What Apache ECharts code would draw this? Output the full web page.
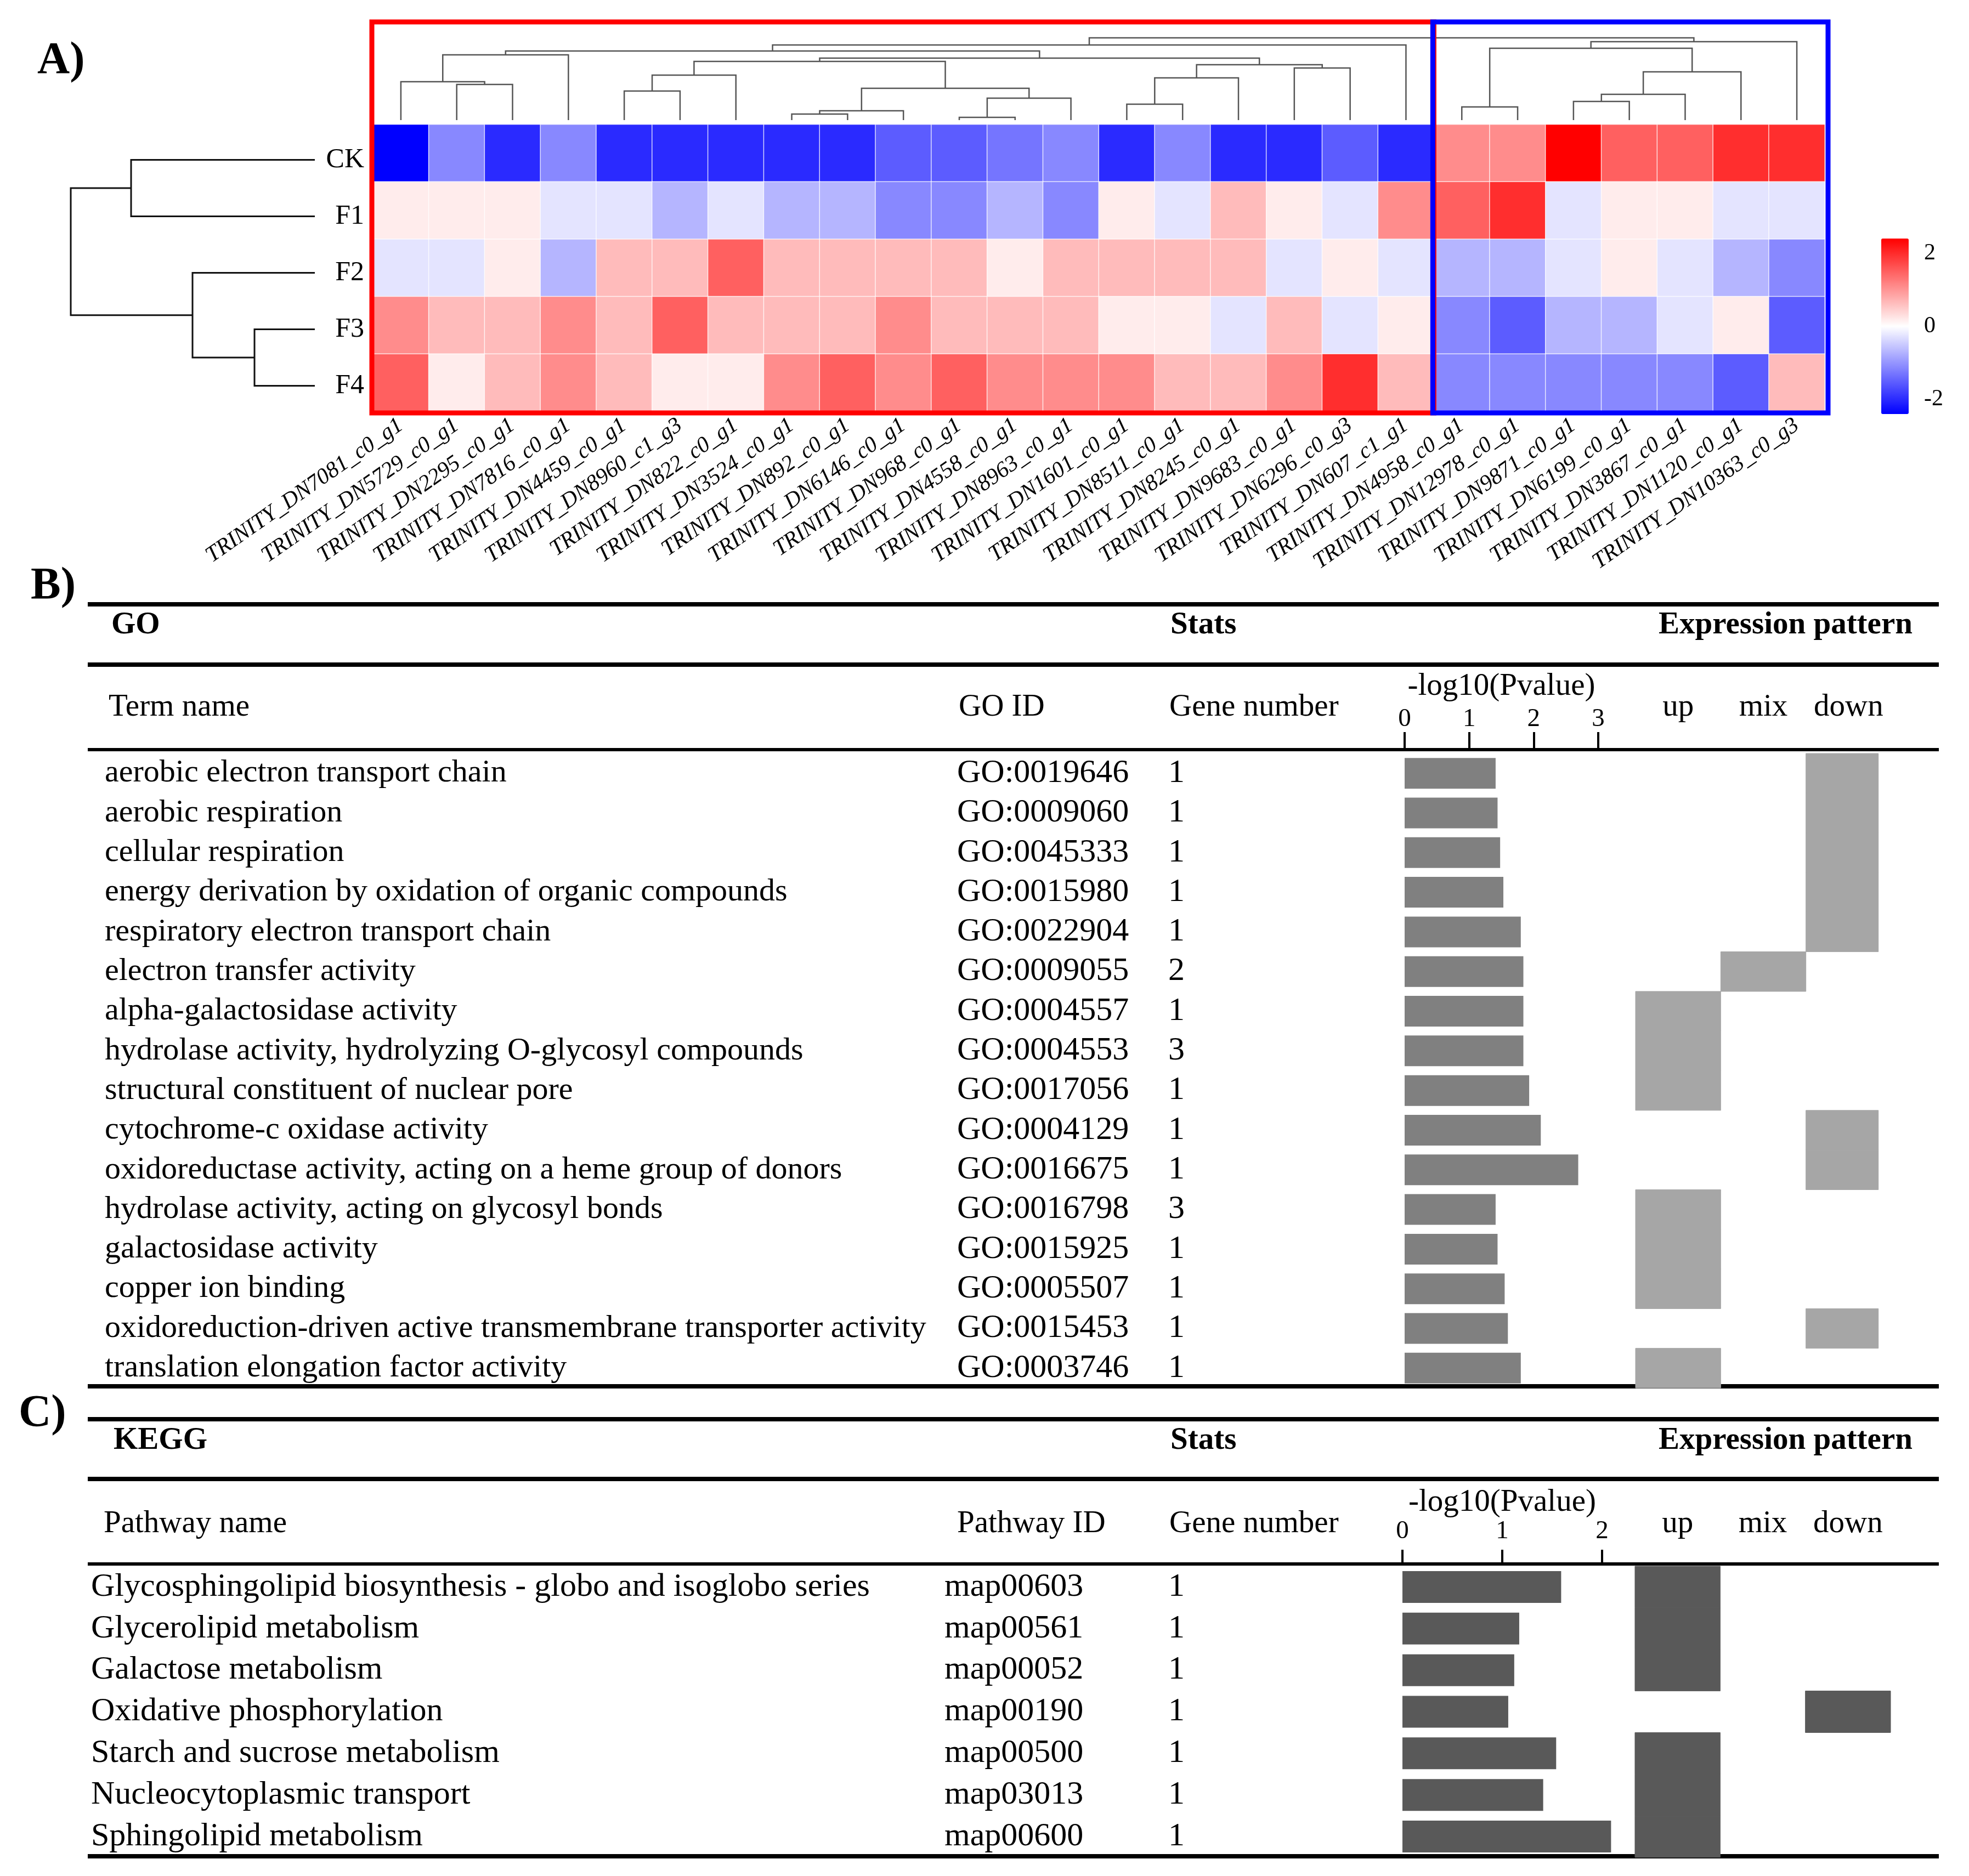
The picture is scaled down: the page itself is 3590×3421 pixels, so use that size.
<!DOCTYPE html>
<html><head><meta charset="utf-8">
<script src="https://cdn.jsdelivr.net/npm/echarts/dist/echarts.min.js"></script>
<style>html,body{margin:0;padding:0;background:#fff}#c{width:3590px;height:3421px}</style>
</head><body><div id="c"></div>
<script>
// ---------------- DATA ----------------
const genes = ['TRINITY_DN7081_c0_g1','TRINITY_DN5729_c0_g1','TRINITY_DN2295_c0_g1','TRINITY_DN7816_c0_g1','TRINITY_DN4459_c0_g1','TRINITY_DN8960_c1_g3','TRINITY_DN822_c0_g1','TRINITY_DN3524_c0_g1','TRINITY_DN892_c0_g1','TRINITY_DN6146_c0_g1','TRINITY_DN968_c0_g1','TRINITY_DN4558_c0_g1','TRINITY_DN8963_c0_g1','TRINITY_DN1601_c0_g1','TRINITY_DN8511_c0_g1','TRINITY_DN8245_c0_g1','TRINITY_DN9683_c0_g1','TRINITY_DN6296_c0_g3','TRINITY_DN607_c1_g1','TRINITY_DN4958_c0_g1','TRINITY_DN12978_c0_g1','TRINITY_DN9871_c0_g1','TRINITY_DN6199_c0_g1','TRINITY_DN3867_c0_g1','TRINITY_DN1120_c0_g1','TRINITY_DN10363_c0_g3'];
const samples = ['CK','F1','F2','F3','F4'];
const zCK = [-2.4,-1.12,-2.0,-1.12,-2.0,-2.0,-2.0,-2.0,-2.0,-1.53,-1.53,-1.3,-1.12,-2.0,-1.12,-2.0,-2.0,-1.53,-2.0,1.08,1.08,2.4,1.5,1.5,1.97,1.97];
const zF1 = [0.18,0.18,0.18,-0.25,-0.25,-0.7,-0.25,-0.7,-0.7,-1.12,-1.12,-0.7,-1.12,0.18,-0.25,0.64,0.18,-0.25,1.08,1.5,1.97,-0.25,0.18,0.18,-0.25,-0.25];
const zF2 = [-0.25,-0.25,0.18,-0.7,0.64,0.64,1.5,0.64,0.64,0.64,0.64,0.18,0.64,0.64,0.64,0.64,-0.25,0.18,-0.25,-0.7,-0.7,-0.25,0.18,-0.25,-0.7,-1.12];
const zF3 = [1.08,0.64,0.64,1.08,0.64,1.5,0.64,0.64,0.64,1.08,0.64,0.64,0.64,0.18,0.18,-0.25,0.64,-0.25,0.18,-1.12,-1.53,-0.7,-0.7,-0.25,0.18,-1.53];
const zF4 = [1.5,0.18,0.64,1.08,0.64,0.18,0.18,1.08,1.5,1.08,1.5,1.08,1.08,1.08,0.64,0.64,1.08,1.97,0.64,-1.12,-1.12,-1.12,-1.12,-1.12,-1.53,0.64];
const heatRange = [-2.4, 2.4];
const colorbarTicks = [2, 0, -2];
// column dendrogram, linkage style: [childA, childB, height]; leaves 0..25, new clusters 26..
const colMerges = [[1,2,65],[0,26,70],[27,3,119],[4,5,53],[29,6,82],[7,8,11],[31,9,17],[10,11,5],[33,12,40],[32,34,58],[30,35,107],[13,14,29],[37,15,77],[16,17,95],[38,39,101],[36,40,113],[28,41,126],[42,18,137],[19,20,24],[21,22,34],[45,23,47],[46,24,88],[44,47,131],[48,25,143],[43,49,150]];
// row dendrogram: leaves 0..4 (CK,F1,F2,F3,F4)
const rowMerges = [[0,1,335],[3,4,110],[2,6,223],[5,7,445]];
// gene clusters (column index ranges) highlighted by boxes
const clusterSpans = [[0,18],[19,25]];

const goTerms = ['aerobic electron transport chain','aerobic respiration','cellular respiration','energy derivation by oxidation of organic compounds','respiratory electron transport chain','electron transfer activity','alpha-galactosidase activity','hydrolase activity, hydrolyzing O-glycosyl compounds','structural constituent of nuclear pore','cytochrome-c oxidase activity','oxidoreductase activity, acting on a heme group of donors','hydrolase activity, acting on glycosyl bonds','galactosidase activity','copper ion binding','oxidoreduction-driven active transmembrane transporter activity','translation elongation factor activity'];
const goIds = ['GO:0019646','GO:0009060','GO:0045333','GO:0015980','GO:0022904','GO:0009055','GO:0004557','GO:0004553','GO:0017056','GO:0004129','GO:0016675','GO:0016798','GO:0015925','GO:0005507','GO:0015453','GO:0003746'];
const goGenes = [1,1,1,1,1,2,1,3,1,1,1,3,1,1,1,1];
const goLogP = [1.41,1.44,1.48,1.53,1.80,1.84,1.84,1.84,1.93,2.11,2.69,1.41,1.44,1.55,1.60,1.80];
const goPattern = ['down','down','down','down','down','mix','up','up','up','down','down','up','up','up','down','up'];
const goTicks = [0, 3];

const keggNames = ['Glycosphingolipid biosynthesis - globo and isoglobo series','Glycerolipid metabolism','Galactose metabolism','Oxidative phosphorylation','Starch and sucrose metabolism','Nucleocytoplasmic transport','Sphingolipid metabolism'];
const keggIds = ['map00603','map00561','map00052','map00190','map00500','map03013','map00600'];
const keggGenes = [1,1,1,1,1,1,1];
const keggLogP = [1.59,1.17,1.12,1.06,1.54,1.41,2.09];
const keggPattern = ['up','up','up','down','up','up','up'];
const keggTicks = [0, 2];

const patternCats = ['up','mix','down'];

// ---------------- HELPERS ----------------
const FF = '"Liberation Serif","Times New Roman",serif';
function dendroSegments(merges, nLeaves){
  const pos=[], h=[];
  for(let i=0;i<nLeaves;i++){pos[i]=i+0.5;h[i]=0;}
  const segs=[];
  merges.forEach((m,k)=>{
    const a=m[0], b=m[1], hh=m[2], id=nLeaves+k;
    pos[id]=(pos[a]+pos[b])/2; h[id]=hh;
    segs.push([pos[a],h[a],pos[b],h[b],hh]);
  });
  return segs;
}
const zRows = [zCK,zF1,zF2,zF3,zF4];
const heatData = [];
samples.forEach((s,r)=>genes.forEach((g,c)=>heatData.push([c,r,zRows[r][c]])));
const colSegs = dendroSegments(colMerges, genes.length);
const rowSegs = dendroSegments(rowMerges, samples.length);
const colMax = colMerges[colMerges.length-1][2];
const rowMax = rowMerges[rowMerges.length-1][2];

// layout constants
const HM = {left:680, top:227, width:2647, height:523};
const VM = {left:3430, top:435, w:50, h:320};

const grids = [
  {left:HM.left, top:HM.top, width:HM.width, height:HM.height},          //0 heatmap
  {left:HM.left, top:69, width:HM.width, height:150},                     //1 col dendro
  {left:129, top:240, width:445, height:515},                             //2 row dendro
  {left:2561, top:1374, width:353, height:1157},                          //3 GO bars
  {left:2982, top:1374, width:466, height:1157},                          //4 GO pattern
  {left:2557, top:2856, width:364, height:531},                           //5 KEGG bars
  {left:2981, top:2856, width:466, height:531}                            //6 KEGG pattern
].map(g=>Object.assign({outerBoundsMode:'none', containLabel:false, show:false}, g));

const hidden = {axisLine:{show:false}, axisTick:{show:false}, axisLabel:{show:false}, splitLine:{show:false}};

function labelAxis(gridIndex, data, offset, fmt, size){
  return {type:'category', gridIndex, data, inverse:true, position:'left', offset,
    axisLine:{show:false}, axisTick:{show:false}, splitLine:{show:false},
    axisLabel:{interval:0, align:'left', margin:0, fontSize:size||60, fontFamily:FF, color:'#000', formatter:fmt}};
}
function barAxis(gridIndex, ticks, offset, tickLen, labelMargin, nameGap){
  return {type:'value', gridIndex, position:'top', min:ticks[0], max:ticks[1], interval:1, offset,
    name:'-log10(Pvalue)', nameLocation:'middle', nameGap,
    nameTextStyle:{fontSize:57, fontFamily:FF, color:'#000', verticalAlign:'middle'},
    axisLine:{show:false}, splitLine:{show:false},
    axisTick:{show:true, length:tickLen, lineStyle:{color:'#000', width:4}},
    axisLabel:{fontSize:47, fontFamily:FF, color:'#000', margin:labelMargin, verticalAlign:'middle'}};
}
function patternXAxis(gridIndex, margin){
  return {type:'category', gridIndex, position:'top', data:patternCats,
    axisLine:{show:false}, axisTick:{show:false}, splitLine:{show:false},
    axisLabel:{interval:0, fontSize:57, fontFamily:FF, color:'#000', margin, verticalAlign:'middle'}};
}
// lastRatio: relative width of the last ('down') column block
function patternSeries(xi, yi, pattern, color, lastRatio){
  return {type:'custom', xAxisIndex:xi, yAxisIndex:yi, silent:true,
    data: pattern.map((p,i)=>[patternCats.indexOf(p), i]),
    encode:{x:0, y:1},
    renderItem:(params, api)=>{
      const c = api.coord([api.value(0), api.value(1)]);
      const s = api.size([1,1]);
      const w = api.value(0)===patternCats.length-1 ? s[0]*lastRatio : s[0];
      return {type:'rect', shape:{x:c[0]-s[0]/2, y:c[1]-s[1]/2, width:w, height:s[1]},
        style:{fill:color, stroke:color, lineWidth:1}};
    }};
}

const xAxes = [
  {type:'category', gridIndex:0, data:genes, position:'bottom',
    axisLine:{show:false}, axisTick:{show:false}, splitLine:{show:false},
    axisLabel:{interval:0, rotate:35, margin:22, fontSize:41, fontStyle:'italic', fontFamily:FF, color:'#000'}},
  Object.assign({type:'value', gridIndex:1, min:0, max:genes.length}, hidden),
  Object.assign({type:'value', gridIndex:2, min:0, max:rowMax, inverse:true}, hidden),
  barAxis(3, goTicks, 7, 32, 55, 115),
  patternXAxis(4, 84),
  barAxis(5, keggTicks, 4, 26, 59, 110),
  patternXAxis(6, 77)
];
const yAxes = [
  Object.assign({type:'category', gridIndex:0, data:samples, inverse:true}, hidden),
  Object.assign({type:'value', gridIndex:1, min:0, max:colMax}, hidden),
  Object.assign({type:'value', gridIndex:2, min:0, max:samples.length, inverse:true}, hidden),
  labelAxis(3, goTerms, 2561-191, null, 58),                              //3
  labelAxis(3, goIds, 2561-1745),                                         //4
  labelAxis(3, goIds, 2561-2130, (v,i)=>String(goGenes[i])),              //5
  Object.assign({type:'category', gridIndex:4, data:goIds, inverse:true}, hidden), //6
  labelAxis(5, keggNames, 2557-166),                                      //7
  labelAxis(5, keggIds, 2557-1722),                                       //8
  labelAxis(5, keggIds, 2557-2130, (v,i)=>String(keggGenes[i])),          //9
  Object.assign({type:'category', gridIndex:6, data:keggIds, inverse:true}, hidden), //10
  {type:'category', gridIndex:2, data:samples, inverse:true, position:'right', offset:90,   //11 row labels
    axisLine:{show:false}, axisTick:{show:false}, splitLine:{show:false},
    axisLabel:{interval:0, align:'right', margin:0, fontSize:50, fontFamily:FF, color:'#000'}}
];

const boxColors = ['#FF0000','#0000FF'];
const series = [
  {type:'heatmap', xAxisIndex:0, yAxisIndex:0, data:heatData, silent:true,
    itemStyle:{borderColor:'rgba(255,255,255,0.75)', borderWidth:1.5}, emphasis:{disabled:true}},
  {type:'custom', xAxisIndex:1, yAxisIndex:1, data:colSegs, silent:true, encode:{x:[0,2], y:[1,3,4]},
    renderItem:(params, api)=>{
      const pts=[api.coord([api.value(0),api.value(1)]), api.coord([api.value(0),api.value(4)]),
                 api.coord([api.value(2),api.value(4)]), api.coord([api.value(2),api.value(3)])];
      return {type:'polyline', shape:{points:pts}, style:{stroke:'#555', lineWidth:2.5, fill:null}};
    }},
  {type:'custom', xAxisIndex:2, yAxisIndex:2, data:rowSegs, silent:true, encode:{x:[1,3,4], y:[0,2]},
    renderItem:(params, api)=>{
      const pts=[api.coord([api.value(1),api.value(0)]), api.coord([api.value(4),api.value(0)]),
                 api.coord([api.value(4),api.value(2)]), api.coord([api.value(3),api.value(2)])];
      return {type:'polyline', shape:{points:pts}, style:{stroke:'#111', lineWidth:3, fill:null}};
    }},
  {type:'custom', xAxisIndex:0, yAxisIndex:0, z:5, silent:true, clip:false,
    data: clusterSpans.map(s=>[s[0],0,s[1]]), encode:{x:[0,2], y:1},
    renderItem:(params, api)=>{
      const a=api.coord([api.value(0),0]), b=api.coord([api.value(2),0]);
      const w=api.size([1,0])[0];
      const last = params.dataIndex===clusterSpans.length-1;
      const x1=a[0]-w/2-2, x2=b[0]+w/2+(last?6:0);
      return {type:'rect', shape:{x:x1, y:40, width:x2-x1, height:713},
        style:{stroke:boxColors[params.dataIndex], lineWidth:9, fill:null}};
    }},
  {type:'bar', xAxisIndex:3, yAxisIndex:3, data:goLogP, barWidth:56, clip:false, silent:true,
    itemStyle:{color:'#808080'}},
  patternSeries(4, 6, goPattern, '#A6A6A6', 0.85),
  {type:'bar', xAxisIndex:5, yAxisIndex:7, data:keggLogP, barWidth:58, clip:false, silent:true,
    itemStyle:{color:'#595959'}},
  patternSeries(6, 10, keggPattern, '#595959', 1)
];

// ---------------- GRAPHIC (table rules, headers, panel letters, colorbar ticks) ----------------
function hline(y, w){ return {type:'line', shape:{x1:160, y1:y, x2:3535, y2:y}, style:{stroke:'#000', lineWidth:w}, silent:true}; }
function txt(t, x, y, size, bold){ return {type:'text', x, y, silent:true,
  style:{text:t, font:(bold?'bold ':'')+size+'px '+FF, fill:'#000', align:'left', verticalAlign:'middle'}}; }
const graphic = [
  txt('A)', 68, 112, 82, true), txt('B)', 56, 1070, 82, true), txt('C)', 34, 2579, 82, true),
  hline(1102,8), hline(1212,8), hline(1367,6), hline(2528,8),
  txt('GO', 203, 1140, 57, true), txt('Stats', 2134, 1140, 57, true), txt('Expression pattern', 3024, 1140, 57, true),
  txt('Term name', 198, 1290, 57), txt('GO ID', 1748, 1290, 57), txt('Gene number', 2132, 1290, 57),
  hline(2588,8), hline(2697,8), hline(2852,6), hline(3385,8),
  txt('KEGG', 207, 2627, 57, true), txt('Stats', 2134, 2627, 57, true), txt('Expression pattern', 3024, 2627, 57, true),
  txt('Pathway name', 189, 2779, 57), txt('Pathway ID', 1745, 2779, 57), txt('Gene number', 2132, 2779, 57)
];
colorbarTicks.forEach(v=>{
  const y = VM.top + (heatRange[1]-v)/(heatRange[1]-heatRange[0])*VM.h;
  graphic.push(txt(String(v), VM.left+VM.w+28, y, 42));
});

const chart = echarts.init(document.getElementById('c'), null, {renderer:'canvas'});
chart.setOption({
  backgroundColor:'#fff',
  animation:false,
  grid:grids, xAxis:xAxes, yAxis:yAxes, series,
  visualMap:{type:'continuous', seriesIndex:0, min:heatRange[0], max:heatRange[1], calculable:false,
    orient:'vertical', left:VM.left, top:VM.top, itemWidth:VM.w, itemHeight:VM.h, padding:0,
    text:null, showLabel:false, hoverLink:false,
    inRange:{color:['#0000FF','#FFFFFF','#FF0000']}},
  graphic
});
</script></body></html>
